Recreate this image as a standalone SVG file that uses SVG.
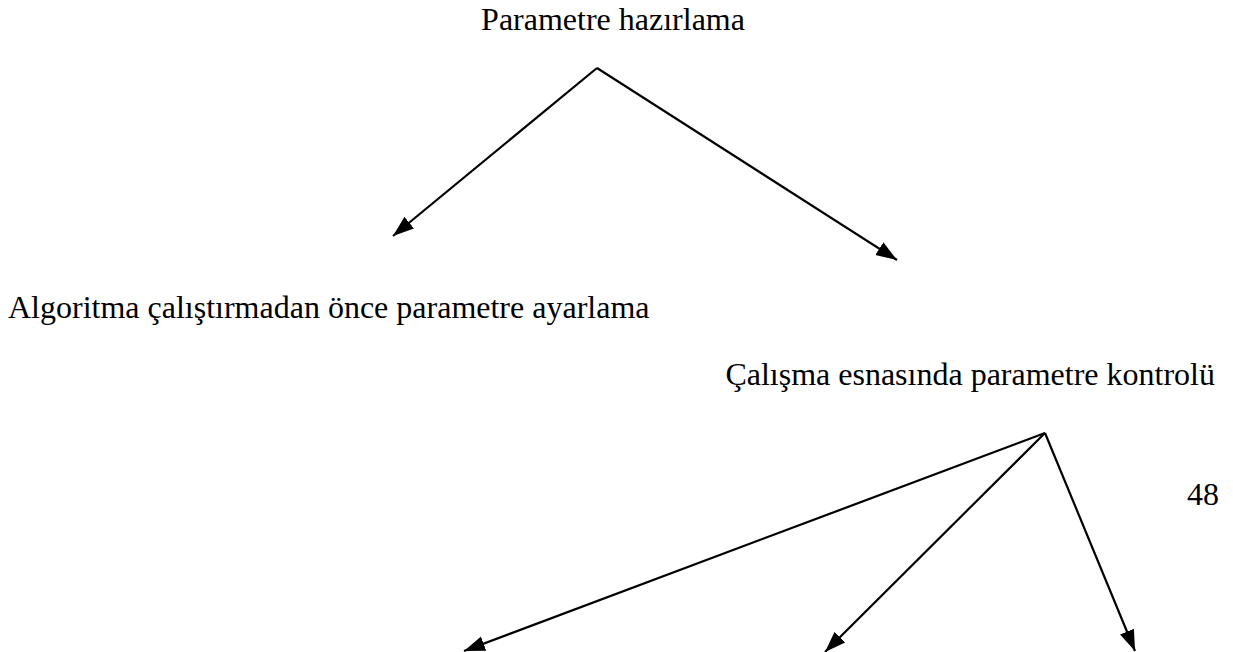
<svg xmlns="http://www.w3.org/2000/svg" width="1233" height="652" viewBox="0 0 1233 652">
<style>
.t{font-family:'Liberation Serif','Times New Roman',Tinos,'DejaVu Serif',serif;font-size:32px;fill:#000}
.c{stroke:#000;stroke-width:2.2;fill:none;marker-end:url(#ah)}
</style>
<defs>
<marker id="ah" markerUnits="userSpaceOnUse" markerWidth="22" markerHeight="18" viewBox="0 0 22 18" refX="21" refY="9" orient="auto">
<path d="M0,1.5 L21,9 L0,16.5 Z" fill="#000"/>
</marker>
</defs>
<rect width="1233" height="652" fill="#fff"/>
<g id="n-root"><text class="t" x="613" y="30" text-anchor="middle">Parametre hazırlama</text></g>
<g id="n-before"><text class="t" x="8" y="318">Algoritma çalıştırmadan önce parametre ayarlama</text></g>
<g id="n-during"><text class="t" x="1215" y="385" text-anchor="end">Çalışma esnasında parametre kontrolü</text></g>
<g id="n-page"><text class="t" x="1187" y="505">48</text></g>
<g id="connectors">
<path class="c" d="M597,68 L393,236"/>
<path class="c" d="M597,68 L897,260"/>
<path class="c" d="M1045,433 L464,651"/>
<path class="c" d="M1045,433 L825,652"/>
<path class="c" d="M1045,433 L1135,651"/>
</g>
</svg>
